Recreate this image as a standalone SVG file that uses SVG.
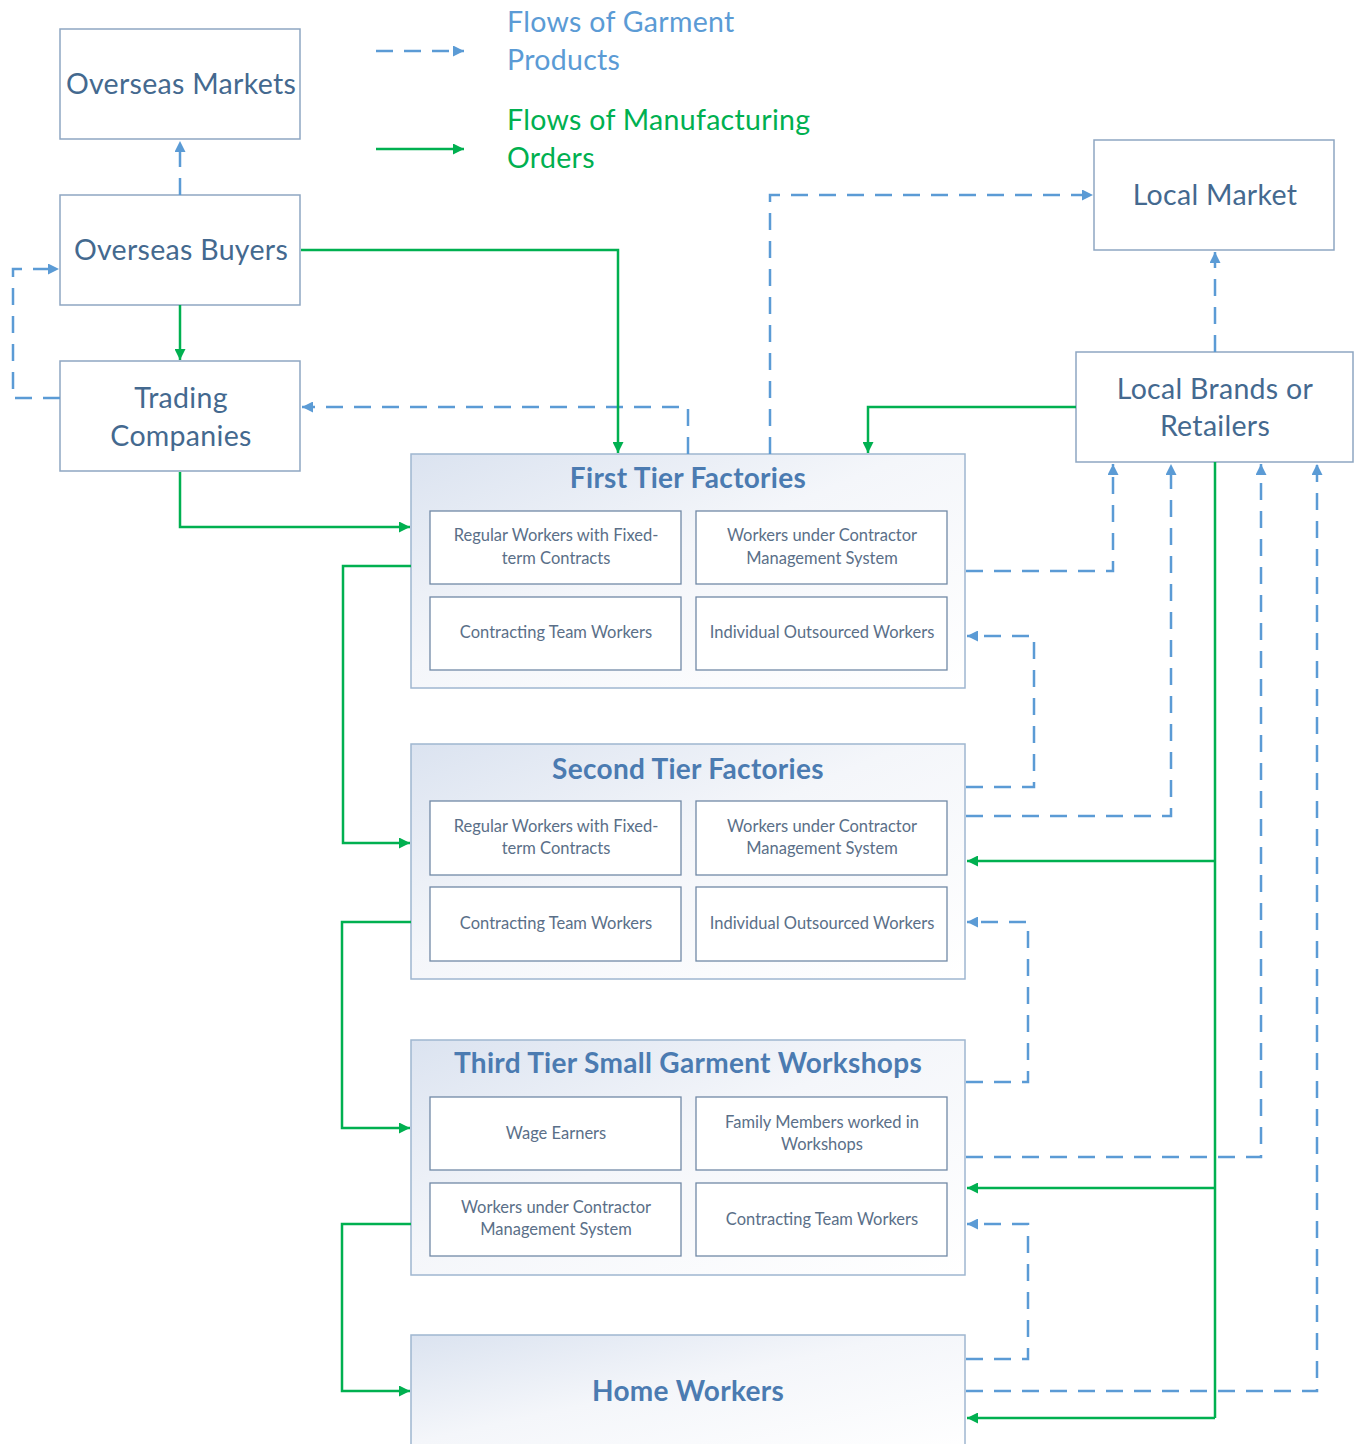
<svg xmlns="http://www.w3.org/2000/svg" width="1357" height="1444" viewBox="0 0 1357 1444">
<defs>
<linearGradient id="tierFill" x1="0" y1="0" x2="1" y2="1">
<stop offset="0" stop-color="#dbe3f0"/>
<stop offset="0.45" stop-color="#f4f6fa"/>
<stop offset="1" stop-color="#ffffff"/>
</linearGradient>
<marker id="ab" viewBox="0 0 10 10" refX="10" refY="5" markerWidth="12" markerHeight="11" markerUnits="userSpaceOnUse" orient="auto">
<path d="M0,0 L10,5 L0,10 z" fill="#5b9bd5"/>
</marker>
<marker id="ag" viewBox="0 0 10 10" refX="10" refY="5" markerWidth="12" markerHeight="11" markerUnits="userSpaceOnUse" orient="auto">
<path d="M0,0 L10,5 L0,10 z" fill="#00b050"/>
</marker>
</defs>
<style>
.box{fill:#ffffff;stroke:#8ea6c2;stroke-width:1.5}
.tier{fill:url(#tierFill);stroke:#9fb6d0;stroke-width:1.5}
.inner{fill:#ffffff;stroke:#7189a6;stroke-width:1.3}
.big{font-family:Lato,"Liberation Sans",sans-serif;font-size:28.5px;letter-spacing:0.3px;fill:#44698f;text-anchor:middle}
.title{font-family:Lato,"Liberation Sans",sans-serif;font-size:28px;font-weight:bold;letter-spacing:0.3px;fill:#4b7bb1;text-anchor:middle}
.small{font-family:Lato,"Liberation Sans",sans-serif;font-size:16.5px;fill:#5a6f88;text-anchor:middle}
.legB{font-family:Lato,"Liberation Sans",sans-serif;font-size:28.5px;letter-spacing:0.3px;fill:#5b9bd5}
.legG{font-family:Lato,"Liberation Sans",sans-serif;font-size:28.5px;letter-spacing:0.3px;fill:#00b050}
.dash{fill:none;stroke:#5b9bd5;stroke-width:2.5;stroke-dasharray:17 11;marker-end:url(#ab)}
.solid{fill:none;stroke:#00b050;stroke-width:2.5;marker-end:url(#ag)}
.solidn{fill:none;stroke:#00b050;stroke-width:2.5}
</style>
<rect width="1357" height="1444" fill="#ffffff"/>

<g id="legend">
<line x1="376" y1="51" x2="464" y2="51" class="dash"/>
<text x="507" y="32" class="legB">Flows of Garment</text>
<text x="507" y="70" class="legB">Products</text>
<line x1="376" y1="149" x2="464" y2="149" class="solid"/>
<text x="507" y="130" class="legG">Flows of Manufacturing</text>
<text x="507" y="168" class="legG">Orders</text>
</g>

<g id="overseas-markets">
<rect x="60" y="29" width="240" height="110" class="box"/>
<text x="181" y="94" class="big">Overseas Markets</text>
</g>
<g id="overseas-buyers">
<rect x="60" y="195" width="240" height="110" class="box"/>
<text x="181" y="260" class="big">Overseas Buyers</text>
</g>
<g id="trading-companies">
<rect x="60" y="361" width="240" height="110" class="box"/>
<text x="181" y="408" class="big">Trading</text>
<text x="181" y="446" class="big">Companies</text>
</g>
<g id="local-market">
<rect x="1094" y="140" width="240" height="110" class="box"/>
<text x="1215" y="205" class="big">Local Market</text>
</g>
<g id="local-brands">
<rect x="1076" y="352" width="277" height="110" class="box"/>
<text x="1215" y="399" class="big">Local Brands or</text>
<text x="1215" y="436" class="big">Retailers</text>
</g>

<g id="first-tier">
<rect x="411" y="454" width="554" height="234" class="tier"/>
<text x="688" y="488" class="title">First Tier Factories</text>
<rect x="430" y="511" width="251" height="73" class="inner"/>
<text x="556" y="541" class="small">Regular Workers with Fixed-</text>
<text x="556" y="564" class="small">term Contracts</text>
<rect x="696" y="511" width="251" height="73" class="inner"/>
<text x="822" y="541" class="small">Workers under Contractor</text>
<text x="822" y="564" class="small">Management System</text>
<rect x="430" y="597" width="251" height="73" class="inner"/>
<text x="556" y="638" class="small">Contracting Team Workers</text>
<rect x="696" y="597" width="251" height="73" class="inner"/>
<text x="822" y="638" class="small">Individual Outsourced Workers</text>
</g>

<g id="second-tier">
<rect x="411" y="744" width="554" height="235" class="tier"/>
<text x="688" y="779" class="title">Second Tier Factories</text>
<rect x="430" y="801" width="251" height="74" class="inner"/>
<text x="556" y="832" class="small">Regular Workers with Fixed-</text>
<text x="556" y="854" class="small">term Contracts</text>
<rect x="696" y="801" width="251" height="74" class="inner"/>
<text x="822" y="832" class="small">Workers under Contractor</text>
<text x="822" y="854" class="small">Management System</text>
<rect x="430" y="887" width="251" height="74" class="inner"/>
<text x="556" y="929" class="small">Contracting Team Workers</text>
<rect x="696" y="887" width="251" height="74" class="inner"/>
<text x="822" y="929" class="small">Individual Outsourced Workers</text>
</g>

<g id="third-tier">
<rect x="411" y="1040" width="554" height="235" class="tier"/>
<text x="688" y="1073" class="title">Third Tier Small Garment Workshops</text>
<rect x="430" y="1097" width="251" height="73" class="inner"/>
<text x="556" y="1139" class="small">Wage Earners</text>
<rect x="696" y="1097" width="251" height="73" class="inner"/>
<text x="822" y="1128" class="small">Family Members worked in</text>
<text x="822" y="1150" class="small">Workshops</text>
<rect x="430" y="1183" width="251" height="73" class="inner"/>
<text x="556" y="1213" class="small">Workers under Contractor</text>
<text x="556" y="1235" class="small">Management System</text>
<rect x="696" y="1183" width="251" height="73" class="inner"/>
<text x="822" y="1225" class="small">Contracting Team Workers</text>
</g>

<g id="home-workers">
<rect x="411" y="1335" width="554" height="120" class="tier"/>
<text x="688" y="1401" class="title">Home Workers</text>
</g>

<g id="connectors">
<!-- garment product flows (dashed blue) -->
<path d="M180,195 V141" class="dash"/>
<path d="M60,398 H13 V269 H59" class="dash"/>
<path d="M688,454 V407 H302" class="dash"/>
<path d="M770,454 V195 H1093" class="dash"/>
<path d="M1215,352 V252" class="dash"/>
<path d="M966,571 H1113 V464" class="dash"/>
<path d="M966,787 H1034 V636 H967" class="dash"/>
<path d="M966,816 H1171 V464" class="dash"/>
<path d="M966,1082 H1028 V922 H967" class="dash"/>
<path d="M966,1157 H1261 V464" class="dash"/>
<path d="M966,1359 H1028 V1224 H967" class="dash"/>
<path d="M966,1391 H1317 V464" class="dash"/>
<!-- manufacturing order flows (solid green) -->
<path d="M180,305 V360" class="solid"/>
<path d="M301,250 H618 V453" class="solid"/>
<path d="M180,472 V527 H410" class="solid"/>
<path d="M411,566 H343 V843 H410" class="solid"/>
<path d="M411,922 H342 V1128 H410" class="solid"/>
<path d="M411,1224 H342 V1391 H410" class="solid"/>
<path d="M1076,407 H868 V453" class="solid"/>
<path d="M1215,462 V1418" class="solidn"/>
<path d="M1215,861 H967" class="solid"/>
<path d="M1215,1188 H967" class="solid"/>
<path d="M1215,1418 H967" class="solid"/>
</g>
</svg>
